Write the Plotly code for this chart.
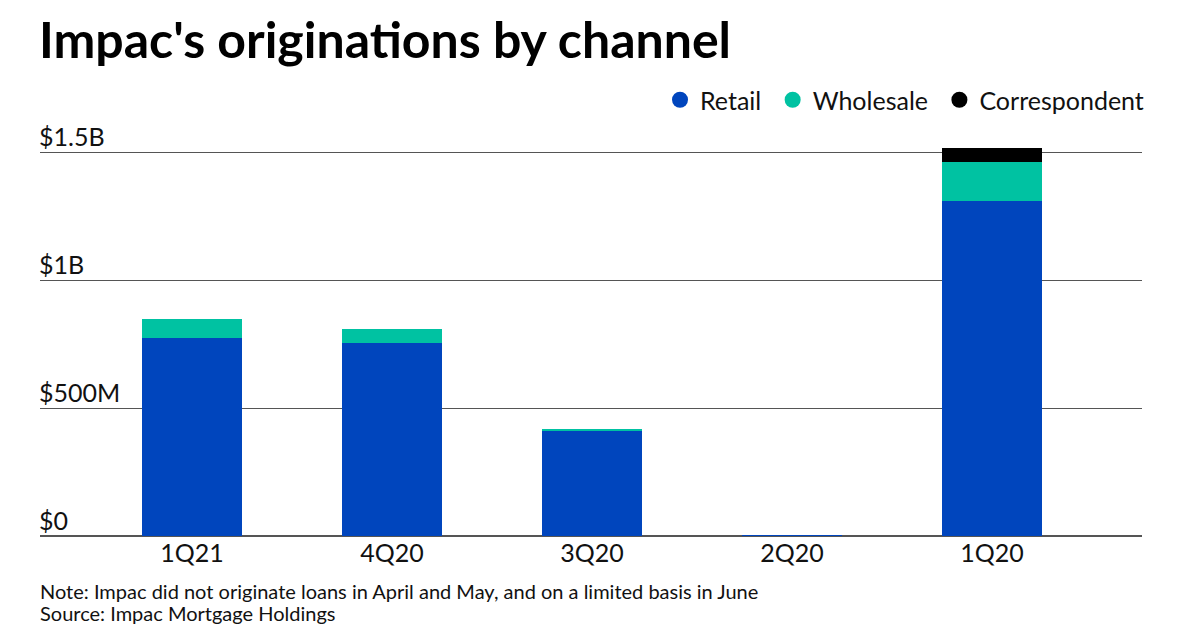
import plotly.graph_objects as go

quarters = ["1Q21", "4Q20", "3Q20", "2Q20", "1Q20"]
retail = [772, 753, 413, 2, 1309]
wholesale = [77, 56, 4, 0, 152]
correspondent = [0, 0, 0, 0, 53]

tick_vals = [0, 500, 1000, 1500]
tick_text = ["$0", "$500M", "$1B", "$1.5B"]

series = [
    ("Retail", retail, "#0045BD"),
    ("Wholesale", wholesale, "#00C2A2"),
    ("Correspondent", correspondent, "#000000"),
]

# page offset of 8px (body margin) compensated
L, R, T, B = 32, 66, 132, 102
PH = 630 - T - B
PW = 1200 - L - R

fig = go.Figure()
for name, vals, col in series:
    fig.add_trace(go.Bar(x=quarters, y=vals, name=name, marker=dict(color=col, line=dict(width=0)),
                         width=0.5, showlegend=False))
for name, vals, col in series:
    fig.add_trace(go.Scatter(x=[None], y=[None], mode="markers", name=name + "\u00a0",
                             marker=dict(color=col, size=18, symbol="circle")))

fig.update_layout(
    barmode="stack",
    width=1200, height=630,
    margin=dict(l=L, r=R, t=T, b=B),
    paper_bgcolor="white", plot_bgcolor="white",
    font=dict(family="Lato", color="#111111"),
    title=dict(text="<b>Impac's originations by channel</b>", font=dict(family="Lato", size=50, color="#000000"),
               x=31/1200, xref="container", xanchor="left", y=1-32/630, yref="container", yanchor="middle"),
    legend=dict(orientation="h", x=1.0 + 14/PW, xanchor="right", y=1 + (T-92)/PH, yanchor="middle",
                traceorder="normal",
                font=dict(size=25, color="#111111"), itemwidth=30, bgcolor="rgba(0,0,0,0)"),
    xaxis=dict(range=[-0.76, 4.75], showgrid=False, showline=False, ticks="",
               tickfont=dict(size=25, color="#111111"), fixedrange=True),
    yaxis=dict(range=[0, 1547], tickvals=tick_vals, showticklabels=False,
               showgrid=True, gridcolor="#555555", gridwidth=1,
               zeroline=True, zerolinecolor="#555555", zerolinewidth=1.5,
               showline=False, ticks=""),
    bargap=0.5,
)

for v, t in zip(tick_vals, tick_text):
    fig.add_annotation(xref="paper", yref="y", x=0, y=v, xanchor="left", yanchor="bottom",
                       xshift=-3, yshift=-1, text=t, showarrow=False,
                       font=dict(size=25, color="#111111"))

fig.add_annotation(xref="paper", yref="paper", x=-2/PW, y=-(583-528)/PH, xanchor="left", yanchor="middle",
                   text="Note: Impac did not originate loans in April and May, and on a limited basis in June",
                   showarrow=False, font=dict(size=20, color="#111111"))
fig.add_annotation(xref="paper", yref="paper", x=-2/PW, y=-(605-528)/PH, xanchor="left", yanchor="middle",
                   text="Source: Impac Mortgage Holdings",
                   showarrow=False, font=dict(size=20, color="#111111"))

fig.write_html("out.html")
